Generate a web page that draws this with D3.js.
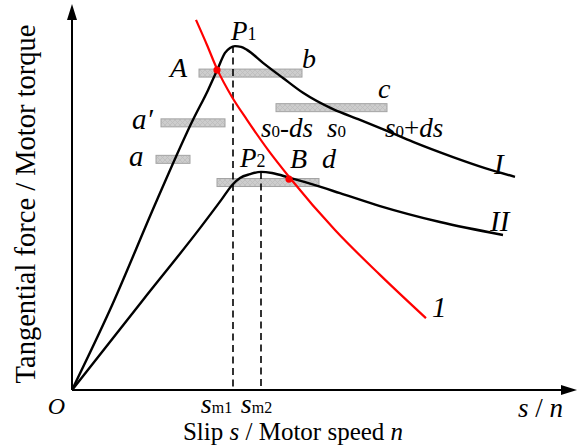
<!DOCTYPE html>
<html>
<head>
<meta charset="utf-8">
<script src="https://cdn.jsdelivr.net/npm/d3@7"></script>
<style>
  body { margin: 0; background: #fff; }
  svg { display: block; }
  text { font-family: "Liberation Serif", "Times New Roman", serif; fill: #000; }
</style>
</head>
<body>
<svg id="chart" width="578" height="448"></svg>
<script>
// Motor characteristic I: slip vs. torque
const motorCurveI = [
  [0, 0], [0.76, 2.11], [1.70, 5.00], [2.42, 7.11], [2.72, 7.89], [2.92, 8.47],
  [3.06, 8.87], [3.16, 9.00], [3.26, 9.05], [3.38, 9.03], [3.50, 8.95],
  [3.82, 8.61], [4.22, 8.21], [4.62, 7.82], [5.22, 7.39], [5.76, 7.11],
  [6.30, 6.82], [6.82, 6.53], [7.62, 6.13], [8.26, 5.84], [8.86, 5.61]
];
// Motor characteristic II
const motorCurveII = [
  [0, 0], [1.42, 2.37], [2.56, 4.26], [3.00, 5.03], [3.20, 5.39], [3.36, 5.58],
  [3.56, 5.68], [3.78, 5.74], [4.00, 5.71], [4.36, 5.58], [4.86, 5.39],
  [5.36, 5.18], [6.16, 4.84], [7.36, 4.42], [8.62, 4.08]
];
// Tangential force (adhesion) curve 1
const forceCurve1 = [
  [2.48, 9.74], [2.70, 9.08], [2.90, 8.45], [3.20, 7.71], [3.50, 7.11],
  [3.92, 6.32], [4.36, 5.58], [5.26, 4.21], [6.16, 3.03], [7.08, 1.89]
];
// Operating points A and B
const operatingPoints = [[2.90, 8.42], [4.34, 5.55]];
// Critical slips s_m1, s_m2 and their peak torques
const peakSlips = [3.22, 3.78];
const peakTorques = [9.05, 5.74];
const slipTickSubs = ["m1", "m2"];
// Torque bands: start slip, end slip, torque level
const bandStart = [2.54, 1.78, 1.68, 4.08, 2.90];
const bandEnd   = [4.60, 3.06, 2.36, 6.30, 4.94];
const bandLevel = [8.34, 7.03, 6.07, 7.43, 5.46];

const svg = d3.select("#chart");
const origin = { x: 72, y: 390 };
const x = d3.scaleLinear().domain([0, 10]).range([origin.x, 572]);
const y = d3.scaleLinear().domain([0, 10]).range([origin.y, 10]);

// hatch pattern for the bands
const defs = svg.append("defs");
const pat = defs.append("pattern").attr("id", "hatch")
  .attr("patternUnits", "userSpaceOnUse").attr("width", 5).attr("height", 5);
pat.append("rect").attr("width", 5).attr("height", 5).attr("fill", "#cdcdcd");
pat.append("path").attr("d", "M0,0L5,5M5,0L0,5")
  .attr("stroke", "#bcbcbc").attr("stroke-width", 0.8);

// bands
const bands = bandStart.map((s, i) => ({ s0: s, s1: bandEnd[i], t: bandLevel[i] }));
svg.append("g").selectAll("rect").data(bands).join("rect")
  .attr("x", d => x(d.s0))
  .attr("y", d => y(d.t) - 4)
  .attr("width", d => x(d.s1) - x(d.s0))
  .attr("height", 8)
  .attr("fill", "url(#hatch)")
  .attr("stroke", "#a3a3a3")
  .attr("stroke-width", 1);

// axes with arrowheads
const axes = svg.append("g").attr("stroke", "#000").attr("stroke-width", 2);
axes.append("line").attr("x1", origin.x).attr("y1", origin.y).attr("x2", origin.x).attr("y2", 18);
axes.append("line").attr("x1", origin.x).attr("y1", origin.y).attr("x2", 564).attr("y2", origin.y);
svg.append("path").attr("d", `M${origin.x},4L${origin.x - 5},20L${origin.x + 5},20Z`).attr("fill", "#000");
svg.append("path").attr("d", `M577,${origin.y}L561,${origin.y - 5}L561,${origin.y + 5}Z`).attr("fill", "#000");

// dashed drop lines from the peaks
svg.append("g").selectAll("line").data(peakSlips).join("line")
  .attr("x1", d => x(d)).attr("x2", d => x(d))
  .attr("y1", (d, i) => y(peakTorques[i])).attr("y2", origin.y)
  .attr("stroke", "#000").attr("stroke-width", 1.6)
  .attr("stroke-dasharray", "7,4.5");

// curves
const line = d3.line().x(d => x(d[0])).y(d => y(d[1])).curve(d3.curveMonotoneX);
svg.append("path").attr("d", line(motorCurveI))
  .attr("fill", "none").attr("stroke", "#000").attr("stroke-width", 2.4);
svg.append("path").attr("d", line(motorCurveII))
  .attr("fill", "none").attr("stroke", "#000").attr("stroke-width", 2.4);
svg.append("path").attr("d", line(forceCurve1))
  .attr("fill", "none").attr("stroke", "#ff0000").attr("stroke-width", 2.2);

svg.append("g").selectAll("circle").data(operatingPoints).join("circle")
  .attr("cx", d => x(d[0])).attr("cy", d => y(d[1])).attr("r", 3.6)
  .attr("fill", "#ff0000");

// slip axis ticks s_m1, s_m2
const xAxis = d3.axisBottom(x).tickValues(peakSlips).tickSize(0).tickFormat("");
const gx = svg.append("g").attr("transform", `translate(0,${origin.y})`).call(xAxis);
gx.select(".domain").remove();
gx.selectAll(".tick").each(function (d, i) {
  const t = d3.select(this).append("text")
    .attr("y", 23).attr("text-anchor", "middle").attr("fill", "#000")
    .attr("x", i === 0 ? -17 : -5);
  t.append("tspan").attr("font-style", "italic").attr("font-size", 28).text("s");
  t.append("tspan").attr("font-size", 16).text(slipTickSubs[i]);
});

// annotation helper
function label(px, py, parts, size, anchor) {
  const t = svg.append("text").attr("x", px).attr("y", py)
    .attr("font-size", size).attr("text-anchor", anchor || "start");
  parts.forEach(p => {
    const ts = t.append("tspan").text(p.t);
    if (p.i) ts.attr("font-style", "italic");
    if (p.sub) ts.attr("font-size", p.sub);
  });
  return t;
}

label(231, 40, [{ t: "P", i: 1 }, { t: "1", sub: 18 }], 27);
label(170, 77, [{ t: "A", i: 1 }], 28);
label(302, 68, [{ t: "b", i: 1 }], 28);
label(132, 129, [{ t: "a\u2032", i: 1 }], 29);
label(129, 166, [{ t: "a", i: 1 }], 29);
label(378, 98, [{ t: "c", i: 1 }], 28);
label(261, 137, [{ t: "s", i: 1 }, { t: "0", sub: 17 }, { t: "-" }, { t: "ds", i: 1 }], 27);
label(327, 137, [{ t: "s", i: 1 }, { t: "0", sub: 17 }], 27);
label(385, 137, [{ t: "s", i: 1 }, { t: "0", sub: 17 }, { t: "+" }, { t: "ds", i: 1 }], 27);
label(240, 167, [{ t: "P", i: 1 }, { t: "2", sub: 18 }], 27);
label(290, 168, [{ t: "B", i: 1 }], 28);
label(322, 168, [{ t: "d", i: 1 }], 28);
label(494, 174, [{ t: "I", i: 1 }], 29);
label(490, 231, [{ t: "II", i: 1 }], 29);
label(432, 317, [{ t: "1", i: 1 }], 29);
label(65, 414, [{ t: "O", i: 1 }], 24, "end");
label(518, 417, [{ t: "s", i: 1 }, { t: " / " }, { t: "n", i: 1 }], 27);

// axis titles
const xt = svg.append("text").attr("x", 293).attr("y", 440)
  .attr("text-anchor", "middle").attr("font-size", 25);
xt.append("tspan").text("Slip ");
xt.append("tspan").attr("font-style", "italic").text("s");
xt.append("tspan").text(" / Motor speed ");
xt.append("tspan").attr("font-style", "italic").text("n");

svg.append("text")
  .attr("transform", "translate(35,204) rotate(-90)")
  .attr("text-anchor", "middle").attr("font-size", 28.5)
  .text("Tangential force / Motor torque");
</script>
</body>
</html>
